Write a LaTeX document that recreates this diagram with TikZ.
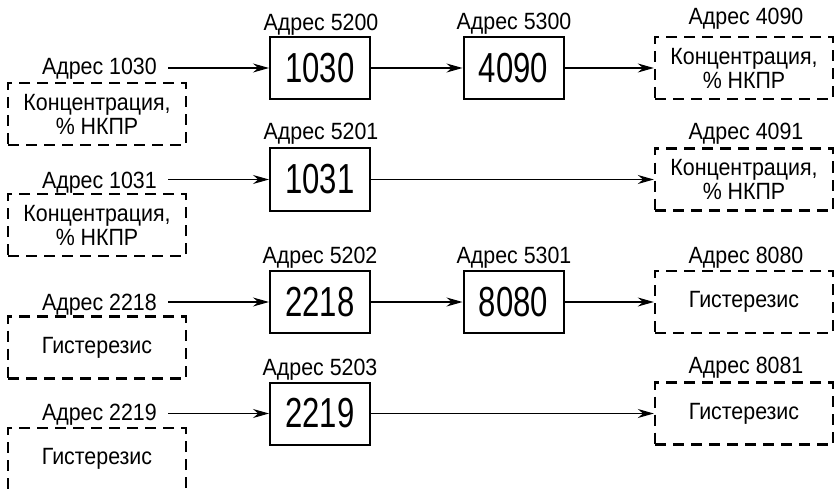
\documentclass[tikz,border=0pt]{standalone}
\usepackage{fontspec}
\setmainfont{Liberation Sans}[FakeStretch=0.91]
\newfontfamily\numfam{Liberation Sans}
\usetikzlibrary{arrows.meta}
\newcommand\numtxt[1]{\scalebox{0.74}[1]{\numfam\fontsize{42}{42}\selectfont #1}}
\newcommand\lbltxt{\fontsize{23.5}{24}\selectfont}
\tikzset{
  numbox/.style={draw, line width=2pt, minimum width=100pt, minimum height=62pt, inner sep=0pt},
  dbox/.style={draw, dash pattern=on 11pt off 7pt, line width=2.4pt, minimum width=178pt, minimum height=62pt, inner sep=0pt, align=center, font=\lbltxt},
  lbl/.style={font=\lbltxt, inner sep=0pt, anchor=base},
  llbl/.style={font=\lbltxt, inner sep=0pt, anchor=base east},
  arr/.style={-{Stealth[length=16pt,width=9pt]}, line width=1.1pt},
}
\begin{document}
\begin{tikzpicture}[x=1pt,y=-1pt]
\useasboundingbox (0,0) rectangle (834,489);
\clip (0,0) rectangle (834,489);
% row 1
\node[numbox] (b1) at (320,68) {\numtxt{1030}};
\node[numbox] (b2) at (513.5,68) {\numtxt{4090}};
\node[dbox] (r1) at (744,68) {Концентрация,\\\% НКПР};
\node[dbox] (L1) at (97,114) {Концентрация,\\\% НКПР};
\node[llbl] (l1) at (157,75) {Адрес 1030};
\node[lbl] (t1) at (321,31) {Адрес 5200};
\node[lbl] (t2) at (514,30) {Адрес 5300};
\node[lbl] (t3) at (746,25) {Адрес 4090};
\draw[arr] ([xshift=11pt]l1.east |- b1.west) -- (b1.west);
\draw[arr] (b1.east) -- (b2.west);
\draw[arr] (b2.east) -- (r1.west);
% row 2
\node[numbox] (b3) at (320,179.5) {\numtxt{1031}};
\node[dbox] (r2) at (744,179.5) {Концентрация,\\\% НКПР};
\node[dbox] (L2) at (97,225) {Концентрация,\\\% НКПР};
\node[llbl] (l2) at (157,188) {Адрес 1031};
\node[lbl] (t4) at (321,140) {Адрес 5201};
\node[lbl] (t5) at (746,140) {Адрес 4091};
\draw[arr] ([xshift=11pt]l2.east |- b3.west) -- (b3.west);
\draw[arr] (b3.east) -- (r2.west);
% row 3
\node[numbox] (b4) at (320,302) {\numtxt{2218}};
\node[numbox] (b5) at (513.5,302) {\numtxt{8080}};
\node[dbox] (r3) at (744,302) {Гистерезис};
\node[dbox] (L3) at (97,347.5) {Гистерезис};
\node[llbl] (l3) at (157,310) {Адрес 2218};
\node[lbl] (t6) at (320,263) {Адрес 5202};
\node[lbl] (t7) at (514,263) {Адрес 5301};
\node[lbl] (t8) at (746,263) {Адрес 8080};
\draw[arr] ([xshift=11pt]l3.east |- b4.west) -- (b4.west);
\draw[arr] (b4.east) -- (b5.west);
\draw[arr] (b5.east) -- (r3.west);
% row 4
\node[numbox] (b6) at (320,413.5) {\numtxt{2219}};
\node[dbox] (r4) at (744,413.5) {Гистерезис};
\node[dbox] (L4) at (97,459) {Гистерезис};
\node[llbl] (l4) at (157,420) {Адрес 2219};
\node[lbl] (t9) at (320,375) {Адрес 5203};
\node[lbl] (t10) at (746,373) {Адрес 8081};
\draw[arr] ([xshift=11pt]l4.east |- b6.west) -- (b6.west);
\draw[arr] (b6.east) -- (r4.west);
\end{tikzpicture}
\end{document}
